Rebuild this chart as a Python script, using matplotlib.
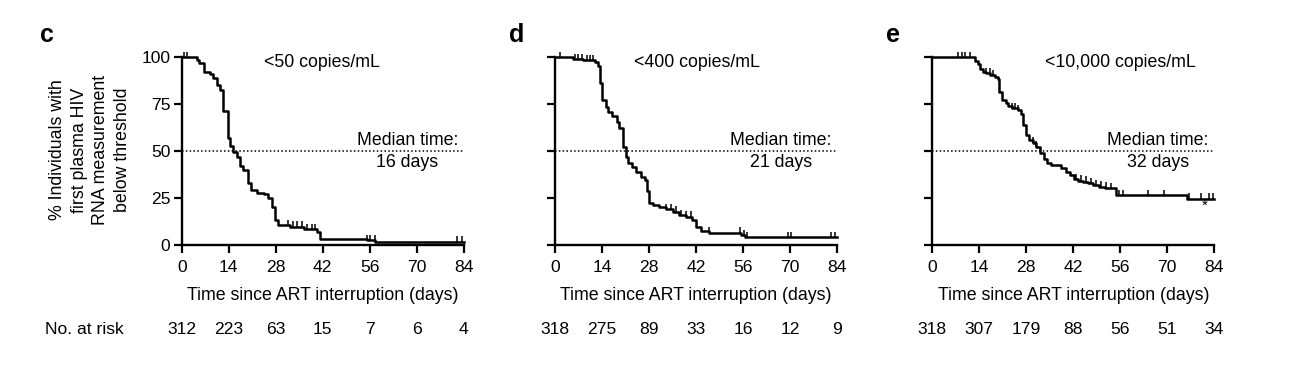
import numpy as np
import matplotlib
matplotlib.use("Agg")
import matplotlib.pyplot as plt
from matplotlib.transforms import blended_transform_factory

plt.rcParams['font.family'] = ['Liberation Sans', 'DejaVu Sans']

# ---------------- data ----------------
panel_letters = ["c", "d", "e"]
thresholds = ["<50 copies/mL", "<400 copies/mL", "<10,000 copies/mL"]
median_labels = ["16 days", "21 days", "32 days"]
x_ticks = [0, 14, 28, 42, 56, 70, 84]
y_ticks = [0, 25, 50, 75, 100]

c_times = [0, 4.5, 5.3, 6.5, 8.4, 9.4, 10.4, 11.4, 12.4, 13.9, 14.4, 15.4, 16.4, 17.4,
           18.4, 19.7, 20.7, 22.4, 24.4, 25.8, 26.8, 27.8, 28.8, 32.3, 36.3, 40.3, 41.3,
           55.2, 57.7]
c_surv = [100, 98.5, 96.8, 92.0, 91.0, 88.8, 85.0, 82.6, 71.4, 56.8, 52.7, 49.7, 47.0, 42.0,
          40.0, 33.2, 29.3, 27.9, 27.2, 24.9, 20.4, 13.3, 10.7, 9.8, 8.5, 7.1, 3.4,
          2.6, 1.8]
c_censor = [0.8, 1.5, 31.8, 33.1, 34.3, 35.8, 37.3, 38.8, 39.8, 55.2, 56.0, 57.6, 82.0, 83.5]

d_times = [0, 5.4, 8.4, 11.8, 12.9, 13.4, 14.1, 15.1, 15.8, 17.1, 18.4, 19.2, 20.2, 21.0,
           21.7, 23.0, 24.2, 25.6, 26.9, 27.3, 28.1, 29.1, 31.1, 33.0, 35.0, 37.0, 39.0,
           40.9, 41.9, 43.4, 45.9, 55.5, 56.7]
d_surv = [100, 99.2, 98.5, 97.5, 95.4, 86.5, 77.3, 73.7, 71.0, 68.7, 65.7, 62.2, 52.0, 47.0,
          43.9, 41.7, 39.1, 36.4, 34.6, 29.0, 22.6, 21.3, 20.4, 19.0, 17.8, 16.0, 15.1,
          13.3, 9.8, 7.6, 6.6, 5.3, 4.1]
d_censor = [1.5, 5.9, 6.9, 7.9, 9.4, 10.4, 11.3, 33.0, 34.5, 36.0, 37.5, 39.0, 40.4, 45.9,
            55.2, 56.2, 57.2, 69.5, 70.2, 82.3, 83.3]

e_times = [0, 12.7, 13.7, 14.2, 15.1, 16.1, 17.3, 18.6, 19.6, 19.9, 20.9, 21.9, 22.6, 23.6,
           25.5, 26.5, 27.0, 28.0, 28.8, 30.0, 31.0, 32.0, 33.2, 34.2, 35.4, 38.4, 39.9,
           41.1, 42.1, 43.4, 44.9, 46.3, 47.8, 49.8, 51.3, 53.3, 54.8, 76.0]
e_surv = [100, 98.2, 96.4, 94.0, 92.4, 91.5, 90.5, 89.7, 88.3, 81.7, 77.3, 75.5, 74.1, 72.8,
          71.9, 69.8, 63.9, 58.6, 56.0, 54.5, 52.4, 48.8, 46.0, 43.7, 42.6, 40.9, 39.1,
          37.3, 35.0, 34.3, 33.7, 32.9, 32.0, 31.1, 30.6, 30.2, 26.5, 24.7]
e_censor = [7.7, 8.7, 9.7, 11.2, 16.1, 17.1, 18.1, 23.6, 24.6, 25.5, 30.0, 31.0, 42.9, 44.4,
            45.8, 47.3, 48.8, 50.3, 51.8, 53.3, 55.7, 56.7, 64.2, 69.1, 76.5, 80.0, 82.5, 83.5]

c_at_risk = [312, 223, 63, 15, 7, 6, 4]
d_at_risk = [318, 275, 89, 33, 16, 12, 9]
e_at_risk = [318, 307, 179, 88, 56, 51, 34]

times_all = [c_times, d_times, e_times]
surv_all = [c_surv, d_surv, e_surv]
censor_all = [c_censor, d_censor, e_censor]
risk_all = [c_at_risk, d_at_risk, e_at_risk]

# ---------------- layout ----------------
W, H = 1290, 379
fig = plt.figure(figsize=(W / 100, H / 100), dpi=100)

ax_left_px = [181.7, 555.0, 932.3]
ax_w_px = 282.0
ax_top_px, ax_bot_px = 57.3, 245.0
ax_h_px = ax_bot_px - ax_top_px
letter_x_px = [46.7, 517.0, 893.0]
title_x = [41.9, 42.2, 56.0]

FS = 12.8
TFS = 12.6

for i in range(3):
    l = ax_left_px[i] / W
    b = 1 - ax_bot_px / H
    h = ax_h_px / H
    ax = fig.add_axes([l, b, ax_w_px / W, h])
    t = np.array(times_all[i] + [84.0])
    s = np.array(surv_all[i] + [surv_all[i][-1]])
    ax.step(t, s, where='post', color='black', lw=1.8, clip_on=False, zorder=3)
    cen = np.array(censor_all[i])
    idx = np.searchsorted(np.array(times_all[i]), cen, side='right') - 1
    cvals = np.array(surv_all[i])[idx]
    ax.plot(cen, cvals + 1.2, linestyle='none', marker='|', markersize=5,
            markeredgewidth=1.1, color='black', clip_on=False, zorder=3)
    ax.plot([0, 84], [50, 50], linestyle=(0, (1, 1.5)), color='black', lw=1.1)

    ax.set_xlim(0, 84)
    ax.set_ylim(0, 100)
    ax.set_xticks(x_ticks)
    ax.set_yticks(y_ticks)
    if i == 0:
        ax.set_yticklabels([str(v) for v in y_ticks])
    else:
        ax.set_yticklabels([])
    for sp in ['top', 'right']:
        ax.spines[sp].set_visible(False)
    for sp in ['left', 'bottom']:
        ax.spines[sp].set_linewidth(1.7)
    ax.tick_params(direction='out', length=5.6, width=1.6, labelsize=TFS)
    ax.tick_params(axis='x', pad=5.5)
    ax.tick_params(axis='y', pad=2.5)
    ax.set_xlabel("Time since ART interruption (days)", fontsize=FS)
    ax.xaxis.label.set_va('center')
    ax.xaxis.set_label_coords(0.5, -(295 - ax_bot_px) / ax_h_px)

    ax.text(title_x[i], 97.3, thresholds[i], ha='center', va='center', fontsize=FS)
    ax.text(67.2, 55.8, "Median time:", ha='center', va='center', fontsize=FS)
    ax.text(67.2, 43.7, median_labels[i], ha='center', va='center', fontsize=FS)

    if i == 2:
        ax.text(81.0, 21.0, "*", ha='center', va='center', fontsize=11)

    fig.text(letter_x_px[i] / W, 1 - 35 / H, panel_letters[i], fontsize=18,
             fontweight='bold', ha='center', va='center')

    tr = blended_transform_factory(ax.transData, fig.transFigure)
    for xv, n in zip(x_ticks, risk_all[i]):
        ax.text(xv, 1 - 330 / H, str(n), transform=tr, ha='center', va='center',
                fontsize=TFS)

fig.text(90 / W, 1 - 150 / H,
         "% Individuals with\nfirst plasma HIV\nRNA measurement\nbelow threshold",
         rotation=90, ha='center', va='center', fontsize=FS, linespacing=1.38)
fig.text(45 / W, 1 - 330 / H, "No. at risk", ha='left', va='center', fontsize=TFS)

fig.savefig("out.png", dpi=100)
